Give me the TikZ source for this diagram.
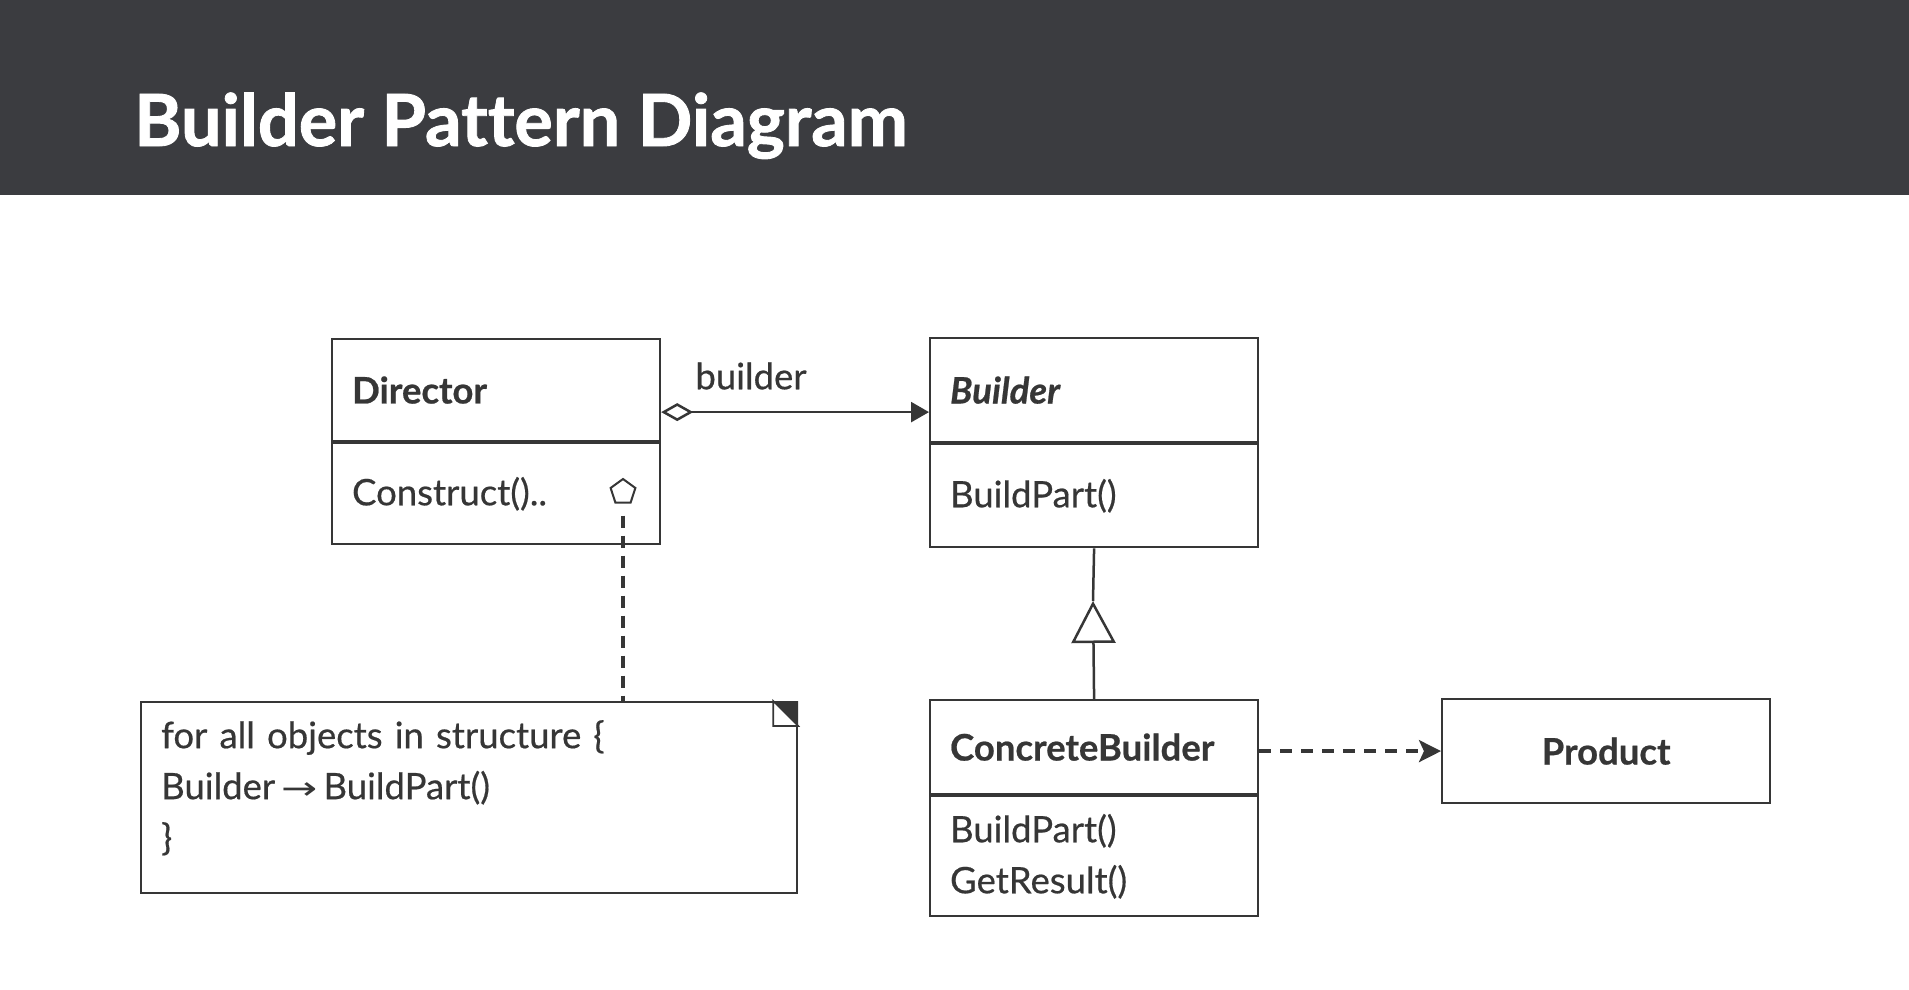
\documentclass[tikz,border=0pt]{standalone}
\usepackage{fontspec}
\setmainfont{Lato}[UprightFeatures={FakeBold=0.5},
  BoldFeatures={FakeBold=0.6}, BoldItalicFeatures={FakeBold=0.6}]
\newfontfamily\titlefont{Lato}[Ligatures=NoCommon, BoldFeatures={FakeBold=1.2}]
\newfontfamily\arrowfont{DejaVu Sans}
\usetikzlibrary{arrows.meta,shapes.geometric}
\definecolor{ink}{HTML}{363636}
\definecolor{banner}{HTML}{3B3C40}
\begin{document}
\begin{tikzpicture}[x=1pt,y=-1pt,
  every node/.style={text=ink, font=\fontsize{36.5}{51}\selectfont},
  umlbox/.style={draw=ink, line width=2.2pt, anchor=north west, inner xsep=20pt,
    inner ysep=0pt, minimum width=328pt, text width=288pt, align=left},
  link/.style={draw=ink, line width=2.5pt},
  dashlink/.style={draw=ink, line width=3.6pt, dash pattern=on 12pt off 9pt}
]
% canvas and title band
\fill[white] (0,0) rectangle (1909,990);
\useasboundingbox (0,0) rectangle (1909,990);
\fill[banner] (0,0) rectangle (1909,195);
\node[anchor=base west, text=white, inner sep=0pt,
  font=\fontsize{72}{80}\titlefont\bfseries] (title) at (134,146) {Builder Pattern Diagram};

% Director
\node[umlbox, minimum height=102pt] (dirh) at (331,338) {\bfseries Director};
\node[umlbox, minimum height=101pt] (dirb) at (dirh.south west) {Construct()..};
\node[regular polygon, regular polygon sides=5, draw=ink, line width=2pt,
  minimum size=26pt, inner sep=0pt] (pent) at (623,492) {};

% Builder
\node[umlbox, minimum height=104pt] (bh) at (929,337) {\bfseries\itshape Builder};
\node[umlbox, minimum height=103pt] (bb) at (bh.south west) {BuildPart()};

% ConcreteBuilder
\node[umlbox, minimum height=94pt] (cbh) at (929,699) {\bfseries ConcreteBuilder};
\node[umlbox, minimum height=120pt] (cbb) at (cbh.south west) {BuildPart()\\GetResult()};

% Product
\node[umlbox, minimum height=104pt, align=center] (prod) at (1441,698) {\bfseries Product};

% Note with folded corner
\node[draw=ink, line width=2.2pt, anchor=north west, minimum width=656pt,
  minimum height=191pt, inner sep=0pt] (note) at (140,701) {};
\fill[ink] (note.north east) -- ++(-25,0) -- ++(25,25) -- cycle;
\draw[ink, line width=1.6pt, fill=white] ([xshift=-25pt]note.north east)
  -- ++(0,25) -- ++(25,0) -- cycle;
\node[anchor=north west, inner sep=0pt, text width=600pt, align=left] (notetext)
  at (161,720) {for all objects in structure \{\\Builder\,\scalebox{1.35}[1]{\arrowfont\fontsize{32}{51}\selectfont →}\,BuildPart()\\\}};

% aggregation Director -> Builder
\draw[link, {Diamond[open, length=32pt, width=18pt]}-{Triangle[length=18pt, width=20pt]}]
  ([yshift=-22pt]dirh.east) -- ([yshift=-22pt]bh.west);
\node (lbl) at (751,376) {builder};

% note anchor line
\draw[dashlink, line width=4.5pt, dash pattern=on 12pt off 8pt]
  ([yshift=-12pt]pent.south) -- (pent.south |- note.north);

% generalisation ConcreteBuilder -> Builder
\coordinate (apex) at (1093,601);
\draw[link, -{Triangle[open, length=42pt, width=44pt]}] (cbh.north) -- (apex);
\draw[link] (apex) -- (bb.south);

% dependency ConcreteBuilder -> Product
\draw[dashlink, -{Stealth[length=22pt, width=22pt, inset=5pt]}]
  (cbh.east |- prod.west) -- (prod.west);
\end{tikzpicture}
\end{document}
